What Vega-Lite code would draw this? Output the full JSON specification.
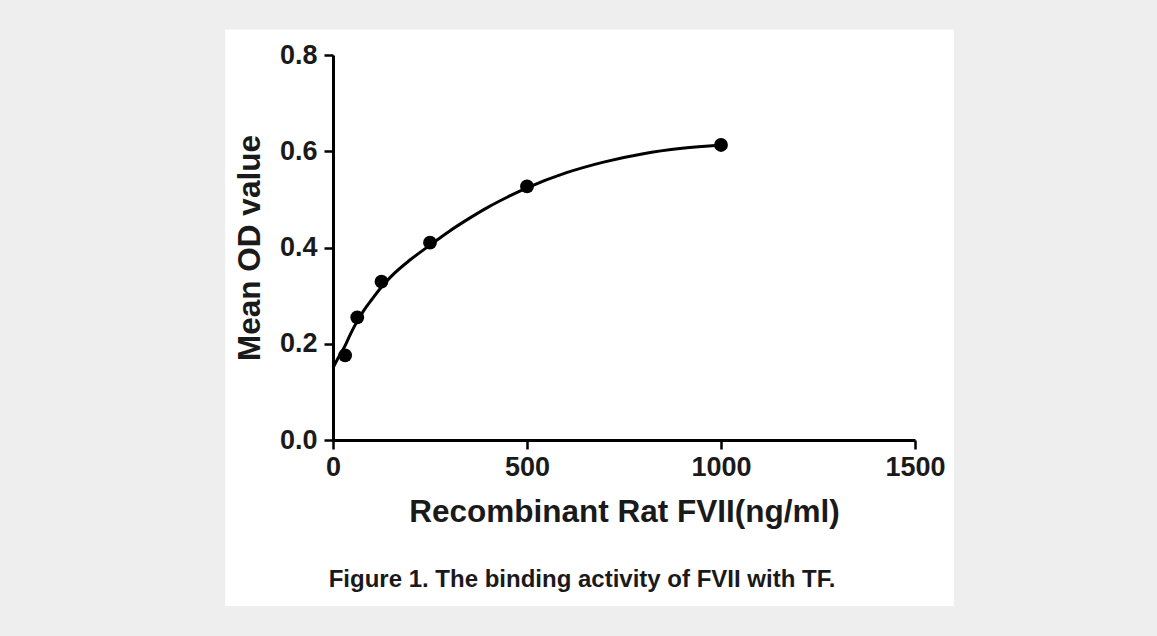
{
  "$schema": "https://vega.github.io/schema/vega-lite/v6.json",
  "width": 582,
  "height": 385,
  "autosize": {"type": "none"},
  "padding": {"left": 333, "top": 55, "right": 242, "bottom": 196},
  "background": "#eeeeee",
  "title": {
    "text": "Figure 1. The binding activity of FVII with TF.",
    "orient": "bottom",
    "anchor": "middle",
    "frame": "group",
    "offset": -38,
    "dx": -42,
    "font": "Liberation Sans",
    "fontSize": 24,
    "fontWeight": "bold",
    "color": "#1a1a1a",
    "zindex": 1
  },
  "config": {
    "view": {"stroke": null},
    "axis": {
      "grid": false,
      "domainColor": "#000000",
      "domainWidth": 3,
      "tickColor": "#000000",
      "tickWidth": 2.5,
      "tickSize": 9,
      "labelFlush": false,
      "labelFont": "Liberation Sans",
      "labelFontWeight": "bold",
      "labelFontSize": 27,
      "labelColor": "#1a1a1a",
      "titleFont": "Liberation Sans",
      "titleFontWeight": "bold",
      "titleFontSize": 31.5,
      "titleColor": "#1a1a1a"
    }
  },
  "datasets": {
    "points": [
      {"conc": 31.25, "od": 0.176},
      {"conc": 62.5, "od": 0.255},
      {"conc": 125, "od": 0.329},
      {"conc": 250, "od": 0.41},
      {"conc": 500, "od": 0.527},
      {"conc": 1000, "od": 0.613}
    ],
    "curve": [
      {"conc": 0, "od": 0.15},
      {"conc": 15, "od": 0.173},
      {"conc": 31.25, "od": 0.196},
      {"conc": 45, "od": 0.22},
      {"conc": 62.5, "od": 0.247},
      {"conc": 80, "od": 0.27},
      {"conc": 100, "od": 0.292},
      {"conc": 125, "od": 0.318},
      {"conc": 150, "od": 0.34},
      {"conc": 200, "od": 0.375},
      {"conc": 250, "od": 0.405},
      {"conc": 300, "od": 0.434},
      {"conc": 350, "od": 0.46},
      {"conc": 400, "od": 0.484},
      {"conc": 450, "od": 0.505},
      {"conc": 500, "od": 0.524},
      {"conc": 600, "od": 0.555},
      {"conc": 700, "od": 0.578},
      {"conc": 800, "od": 0.595},
      {"conc": 900, "od": 0.606},
      {"conc": 1000, "od": 0.613}
    ]
  },
  "layer": [
    {
      "data": {"values": [{}]},
      "mark": {"type": "rect", "color": "#ffffff", "clip": false},
      "encoding": {
        "x": {"datum": -278, "type": "quantitative", "scale": {"domain": [0, 1500], "nice": false}},
        "x2": {"datum": 1600},
        "y": {"datum": 0.853, "type": "quantitative", "scale": {"domain": [0, 0.8], "nice": false}},
        "y2": {"datum": -0.345}
      }
    },
    {
      "data": {"name": "curve"},
      "mark": {"type": "line", "color": "#000000", "strokeWidth": 3, "interpolate": "monotone", "clip": false},
      "encoding": {
        "x": {"field": "conc", "type": "quantitative", "scale": {"domain": [0, 1500], "nice": false},
          "axis": {"zindex": 2, "values": [0, 500, 1000, 1500], "format": "d", "title": "Recombinant Rat FVII(ng/ml)", "labelPadding": 5, "titlePadding": 16}},
        "y": {"field": "od", "type": "quantitative", "scale": {"domain": [0, 0.8], "nice": false},
          "axis": {"zindex": 2, "values": [0, 0.2, 0.4, 0.6, 0.8], "format": ".1f", "title": "Mean OD value", "labelPadding": 7, "titlePadding": 13}}
      }
    },
    {
      "data": {"name": "points"},
      "mark": {"type": "point", "filled": true, "color": "#000000", "opacity": 1, "size": 190, "clip": false},
      "encoding": {
        "x": {"field": "conc", "type": "quantitative"},
        "y": {"field": "od", "type": "quantitative"}
      }
    }
  ]
}
